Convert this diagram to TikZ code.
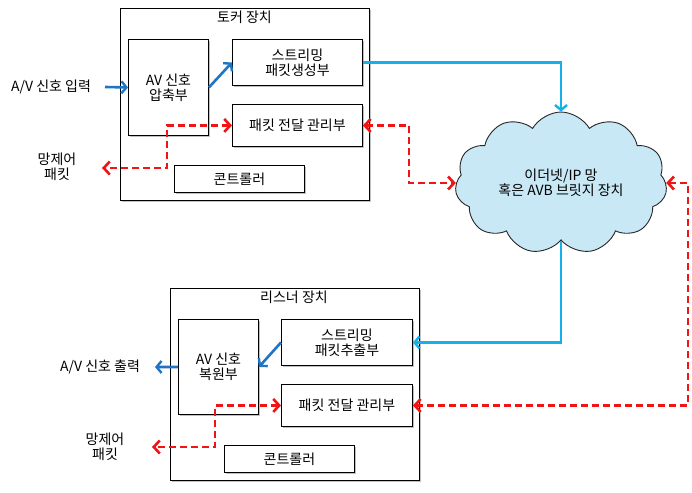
\documentclass[tikz,border=0pt]{standalone}
\usepackage{fontspec}
\setmainfont{Noto Sans CJK KR}
\usetikzlibrary{arrows.meta,shapes.symbols,shadows}
\definecolor{darkblue}{HTML}{1F75C4}
\definecolor{netblue}{HTML}{16B0EC}
\definecolor{netred}{HTML}{F01414}
\definecolor{cloudfill}{HTML}{C8E8F6}
\tikzset{
  box/.style={draw=black, line width=0.9pt, fill=white, anchor=north west, align=center,
    font=\fontsize{14}{15}\selectfont, inner sep=0pt,
    drop shadow={shadow xshift=1.5pt, shadow yshift=-1.5pt, opacity=0.35, fill=black!70}},
  outerbox/.style={draw=black, line width=0.9pt, fill=white, anchor=north west, inner sep=0pt,
    drop shadow={shadow xshift=1.5pt, shadow yshift=-1.5pt, opacity=0.35, fill=black!70}},
  lbl/.style={align=center, font=\fontsize{14}{15}\selectfont, inner sep=0pt},
  bluearr/.style={draw=darkblue, line width=2.6pt, -{Straight Barb[length=5pt,width=12pt,line width=2.4pt]}},
  netarr/.style={draw=netblue, line width=2.6pt, -{Straight Barb[length=5pt,width=12pt,line width=2.4pt]}},
  reddash/.style={draw=netred, line width=2.8pt, dash pattern=on 7pt off 4pt,
    {Straight Barb[length=6pt,width=13pt,line width=2.6pt]}-{Straight Barb[length=6pt,width=13pt,line width=2.6pt]}}
}
\begin{document}
\begin{tikzpicture}[x=1pt,y=-1pt]
\useasboundingbox (0,0) rectangle (692,492);
% ---------- Talker ----------
\node[outerbox, minimum width=249pt, minimum height=192pt] (talker) at (120,8) {};
\node[lbl] (talkertitle) at (244.5,17) {토커 장치};
\node[box, minimum width=80pt, minimum height=96pt] (comp) at (128,39) {AV 신호\\압축부};
\node[box, minimum width=130pt, minimum height=46pt] (stream) at (232,39) {스트리밍\\패킷생성부};
\node[box, minimum width=130pt, minimum height=42pt] (pkt) at (232,104) {패킷 전달 관리부};
\node[box, minimum width=130pt, minimum height=27pt] (ctrl) at (174,165) {콘트롤러};
\node[lbl] (ain) at (51,87) {A/V 신호 입력};
\coordinate (ainend) at (105,87);
\node[lbl] (ctl1) at (57,167) {망제어\\패킷};
\coordinate (ctl1end) at (102,168);
\coordinate (t1) at (167,168);
% ---------- Cloud ----------
\node[cloud, cloud puffs=11, cloud puff arc=120, aspect=1.5, draw=black!85, line width=0.9pt,
  fill=cloudfill, minimum width=212pt, minimum height=140pt, align=center,
  font=\fontsize{14}{15}\selectfont, inner sep=0pt] (cloud) at (561,183) {이더넷/IP 망\\혹은 AVB 브릿지 장치};
\coordinate (j1) at (409,0);
\coordinate (j2) at (688,0);
% ---------- Listener ----------
\node[outerbox, minimum width=249pt, minimum height=192pt] (listener) at (170,288) {};
\node[lbl] (listenertitle) at (294,297) {리스너 장치};
\node[box, minimum width=80pt, minimum height=95pt] (rec) at (178,319) {AV 신호\\복원부};
\node[box, minimum width=131pt, minimum height=46pt] (lstream) at (281,319) {스트리밍\\패킷추출부};
\node[box, minimum width=131pt, minimum height=42pt] (lpkt) at (281,384) {패킷 전달 관리부};
\node[box, minimum width=130pt, minimum height=27pt] (lctrl) at (224,445) {콘트롤러};
\node[lbl] (aout) at (100,367) {A/V 신호 출력};
\coordinate (aoutend) at (155,367);
\node[lbl] (ctl2) at (105,447) {망제어\\패킷};
\coordinate (ctl2end) at (152,447);
\coordinate (t2) at (215,447);
% ---------- Connectors ----------
\draw[bluearr] (ainend) -- (comp.west);
\draw[bluearr] (comp.east) -- (stream.west);
\draw[reddash] (pkt.west) -| (t1) -- (ctl1end);
\draw[netarr] (stream.east) -| (cloud.north);
\draw[reddash] (pkt.east) -- (pkt.east -| j1) -- (j1 |- cloud.west) -- (cloud.west);
\draw[reddash] (cloud.east) -- (j2 |- cloud.east) -- (j2 |- lpkt.east) -- (lpkt.east);
\draw[netarr] (cloud.south) |- (lstream.east);
\draw[bluearr] (lstream.west) -- (rec.east);
\draw[bluearr] (rec.west) -- (aoutend);
\draw[reddash] (lpkt.west) -| (t2) -- (ctl2end);
\end{tikzpicture}
\end{document}
